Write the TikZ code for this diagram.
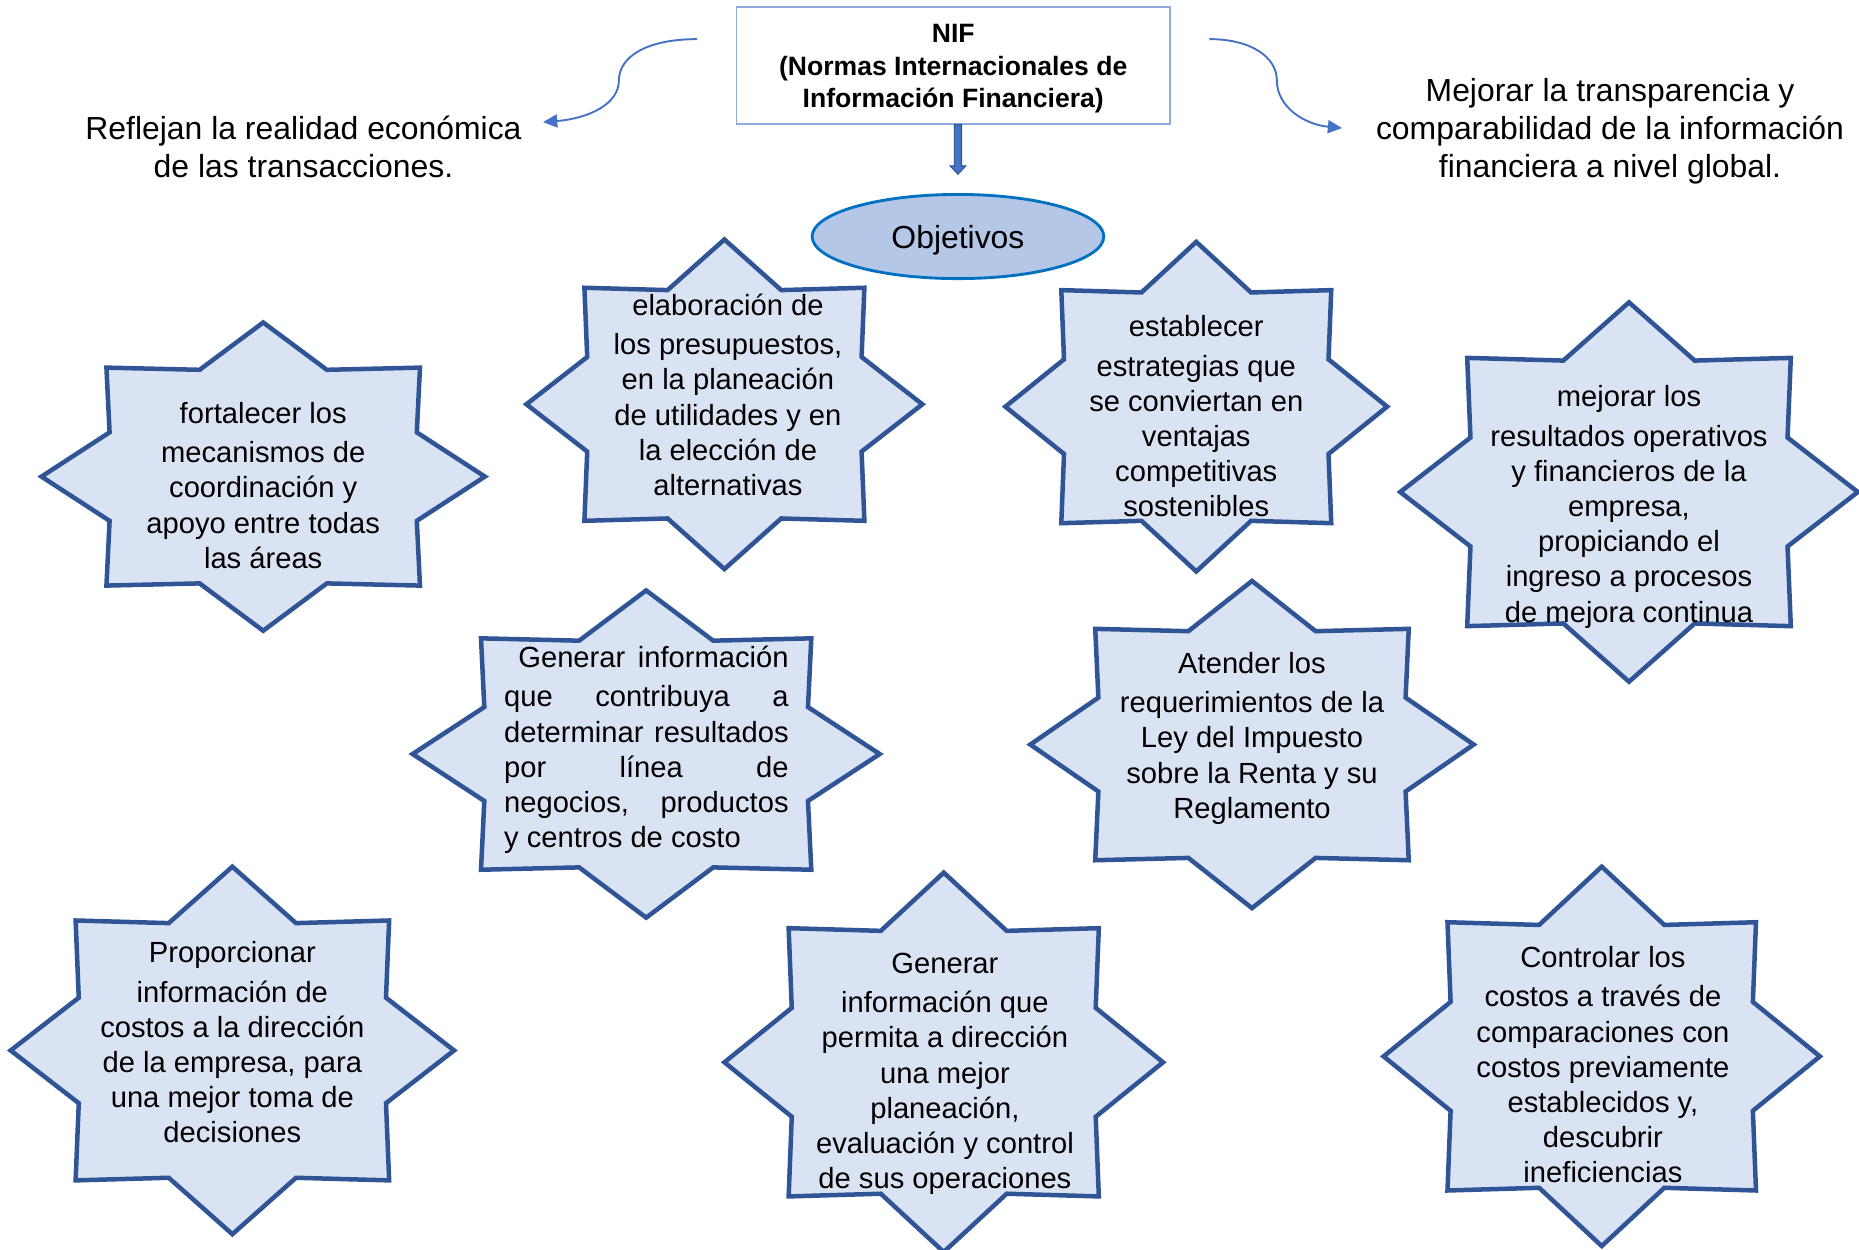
\documentclass[tikz,border=0pt]{standalone}
\usepackage{fontspec}
\setmainfont{Liberation Sans}
\usetikzlibrary{arrows.meta,shapes.geometric,calc}
\definecolor{starfill}{HTML}{DAE3F3}
\definecolor{starline}{HTML}{2F5597}
\definecolor{ellfill}{HTML}{B4C7E7}
\definecolor{ellline}{HTML}{0070C0}
\definecolor{boxline}{HTML}{8FAADC}
\definecolor{curveblue}{HTML}{4472C4}
\newcommand\lns[1]{\begin{tabular}[t]{@{}c@{}}#1\end{tabular}}
\newcommand\starpath[3]{\draw[starsty, shift={(#1)}, xscale=#2, yscale=#3] (0:1) \foreach \a in {0,45,...,315}{ -- (\a+22.5:0.75) -- (\a+45:1)} -- cycle;}
\tikzset{
  starsty/.style={draw=starline, fill=starfill, line width=3.8pt, line join=miter},
  startxt/.style={anchor=base, inner sep=0pt, font=\fontsize{24.6pt}{29.7pt}\selectfont},
  sidetxt/.style={anchor=base, inner sep=0pt, font=\fontsize{26.9pt}{32pt}\selectfont},
  niftxt/.style={anchor=base, inner sep=0pt, font=\fontsize{22.4pt}{27.5pt}\selectfont\bfseries},
  nifbox/.style={draw=boxline, line width=1.2pt, minimum width=366pt, minimum height=98.5pt, inner sep=0pt},
  objell/.style={ellipse, draw=ellline, fill=ellfill, line width=2.4pt, minimum width=246pt, minimum height=71pt, inner sep=0pt},
  curvearr/.style={draw=curveblue, line width=1.6pt, -{Triangle[length=12pt,width=11pt]}},
  blockarr/.style={fill=curveblue, draw=starline, line width=0.9pt, line join=miter}
}
\begin{document}
\begin{tikzpicture}[x=1pt,y=-1pt]
\useasboundingbox (0,0) rectangle (1568,1053.5);

% top box and title
\node[nifbox] (nif) at (804,55.25) {};
\node[niftxt] (niftext) at (804,36) {\lns{NIF\\(Normas Internacionales de\\Información Financiera)}};

% down block arrow
\coordinate (arrowend) at (808,147);
\coordinate (arrowtop) at (nif.south -| arrowend);
\draw[blockarr] ($(arrowtop)+(-3,0)$) -- ($(arrowend)+(-3,-7)$) -- ($(arrowend)+(-6.5,-7)$) -- (arrowend) -- ($(arrowend)+(6.5,-7)$) -- ($(arrowend)+(3,-7)$) -- ($(arrowtop)+(3,0)$) -- cycle;

% objetivos ellipse
\node[objell] (obj) at (808,199.5) {};
\node[sidetxt] (objtext) at (808,210) {Objetivos};

% side texts and curved arrows
\node[sidetxt] (left) at (256,118) {\lns{Reflejan la realidad económica\\de las transacciones.}};
\node[sidetxt] (right) at (1358,86) {\lns{Mejorar la transparencia y\\comparabilidad de la información\\financiera a nivel global.}};
\coordinate (lstart) at (588,33);
\coordinate (lend) at (458,103);
\coordinate (rstart) at (1020,33);
\coordinate (rend) at (1132,108);
\draw[curvearr] (lstart) .. controls (545,33) and (522,48) .. (522,68) .. controls (522,88) and (496,100) .. (lend);
\draw[curvearr] (rstart) .. controls (1055,33) and (1077,48) .. (1077,68) .. controls (1077,90) and (1100,105) .. (rend);

% stars
\coordinate (s1) at (222,402);
\coordinate (s2) at (611,341);
\coordinate (s3) at (1009,343);
\coordinate (s4) at (1374,415);
\coordinate (s5) at (545,636);
\coordinate (s6) at (196,886);
\coordinate (s7) at (796,896);
\coordinate (s8) at (1056,628);
\coordinate (s9) at (1351,891);
\starpath{s1}{187}{130}
\starpath{s2}{167}{139}
\starpath{s3}{161}{139}
\starpath{s4}{193}{160}
\starpath{s5}{197}{138}
\starpath{s6}{187}{155}
\starpath{s7}{185}{160}
\starpath{s8}{187}{138}
\starpath{s9}{184}{160}

\node[startxt] (t1) at (222,357) {\lns{fortalecer los\\[3.5pt]mecanismos de\\coordinación y\\apoyo entre todas\\las áreas}};
\node[startxt] (t2) at (614,266) {\lns{elaboración de\\[3.5pt]los presupuestos,\\en la planeación\\de utilidades y en\\la elección de\\alternativas}};
\node[startxt] (t3) at (1009,284) {\lns{establecer\\[3.5pt]estrategias que\\se conviertan en\\ventajas\\competitivas\\sostenibles}};
\node[startxt] (t4) at (1374,343) {\lns{mejorar los\\[3.5pt]resultados operativos\\y financieros de la\\empresa,\\propiciando el\\ingreso a procesos\\de mejora continua}};
\node[startxt, anchor=base west] (t5) at (425,563) {\parbox[t]{240pt}{\hyphenpenalty=10000\tolerance=10000\hbadness=10000\hspace*{12pt}Generar\hfill información\par\vspace{3.5pt}que contribuya a\linebreak determinar resultados\linebreak por línea de\linebreak negocios, productos\linebreak y centros de costo}};
\node[startxt] (t6) at (196,812) {\lns{Proporcionar\\[3.5pt]información de\\costos a la dirección\\de la empresa, para\\una mejor toma de\\decisiones}};
\node[startxt] (t7) at (797,821) {\lns{Generar\\[3.5pt]información que\\permita a dirección\\una mejor\\planeación,\\evaluación y control\\de sus operaciones}};
\node[startxt] (t8) at (1056,568) {\lns{Atender los\\[3.5pt]requerimientos de la\\Ley del Impuesto\\sobre la Renta y su\\Reglamento}};
\node[startxt] (t9) at (1352,816) {\lns{Controlar los\\[3.5pt]costos a través de\\comparaciones con\\costos previamente\\establecidos y,\\descubrir\\ineficiencias}};
\end{tikzpicture}
\end{document}
